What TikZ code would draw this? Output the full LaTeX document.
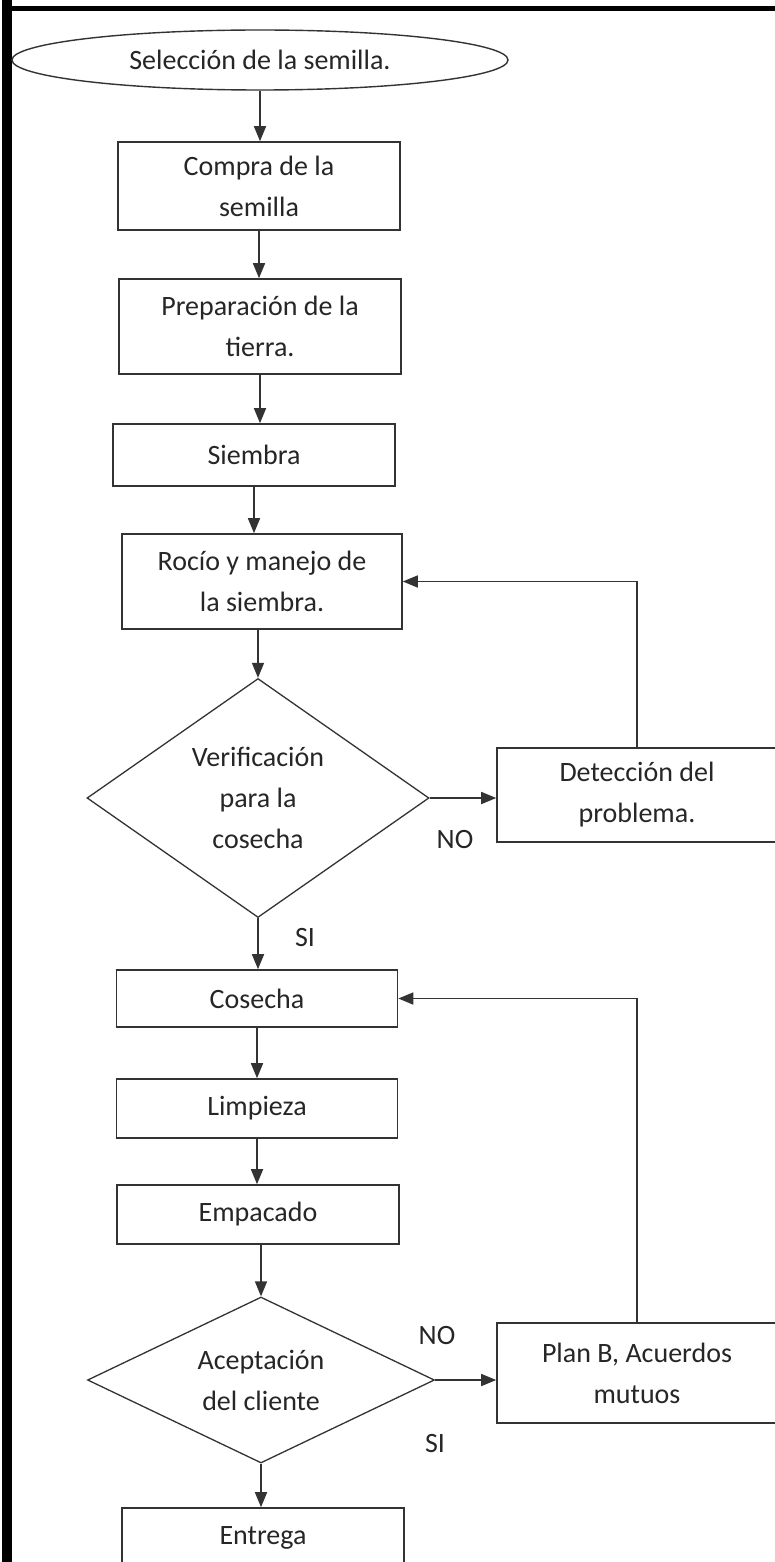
\documentclass[tikz,border=0pt]{standalone}
\usepackage{fontspec}
\setmainfont{Carlito}
\usetikzlibrary{shapes.geometric,arrows.meta}
\begin{document}
\begin{tikzpicture}[x=1pt,y=-1pt,
  every node/.style={font=\fontsize{28}{41}\selectfont, text=black!85},
  procbox/.style={draw=black!80, line width=1.6pt, rectangle, align=center, inner sep=0pt},
  decision/.style={draw=black!80, line width=1.3pt, diamond, align=center, inner sep=0pt},
  startend/.style={draw=black!80, line width=1.4pt, ellipse, inner sep=0pt},
  flow/.style={draw=black!80, line width=1.6pt, -{Triangle[length=15pt,width=12pt]}},
  lbl/.style={inner sep=0pt}]
\useasboundingbox (0,0) rectangle (775,1562);
\clip (0,0) rectangle (775,1562);
\fill[white] (0,0) rectangle (775,1562);
\fill[black] (2,0) rectangle (12,1562);
\fill[black] (2,6) rectangle (775,11);

\node[startend, minimum width=496pt, minimum height=60pt] (sel) at (260,60) {Selección de la semilla.};
\node[procbox, minimum width=282pt, minimum height=88pt] (compra) at (259,186) {Compra de la\\semilla};
\node[procbox, minimum width=282pt, minimum height=95pt] (prep) at (260,326.5) {Preparación de la\\tierra.};
\node[procbox, minimum width=282pt, minimum height=62pt] (siembra) at (254,455) {Siembra};
\node[procbox, minimum width=280pt, minimum height=95pt] (rocio) at (262,581.5) {Rocío y manejo de\\la siembra.};
\node[decision, minimum width=342pt, minimum height=239pt, aspect=1.43] (verif) at (258,798) {Verificación\\para la\\cosecha};
\node[procbox, minimum width=280pt, minimum height=94pt] (detec) at (637,795) {Detección del\\problema.};
\node[procbox, minimum width=281pt, minimum height=57pt] (cosecha) at (257,998.5) {Cosecha};
\node[procbox, minimum width=281pt, minimum height=59pt] (limp) at (257,1108.5) {Limpieza};
\node[procbox, minimum width=282pt, minimum height=59pt] (emp) at (258,1214.5) {Empacado};
\node[decision, minimum width=347pt, minimum height=166pt, aspect=2.09] (acep) at (261,1380) {Aceptación\\del cliente};
\node[procbox, minimum width=280pt, minimum height=100pt] (planb) at (637,1373) {Plan B, Acuerdos\\mutuos};
\node[procbox, minimum width=282pt, minimum height=60pt] (entrega) at (263,1538) {Entrega};

\node[lbl] (no1) at (455,840) {NO};
\node[lbl] (si1) at (305,938) {SI};
\node[lbl] (no2) at (437,1335) {NO};
\node[lbl] (si2) at (435,1443) {SI};

\draw[flow] (sel.south) -- (sel.south |- compra.north);
\draw[flow] (compra.south) -- (compra.south |- prep.north);
\draw[flow] (prep.south) -- (prep.south |- siembra.north);
\draw[flow] (siembra.south) -- (siembra.south |- rocio.north);
\draw[flow] (verif.north |- rocio.south) -- (verif.north);
\draw[flow] (verif.south) -- (verif.south |- cosecha.north);
\draw[flow] (verif.east) -- (verif.east -| detec.west);
\draw[flow] (detec.north) |- (rocio.east);
\draw[flow] (cosecha.south) -- (cosecha.south |- limp.north);
\draw[flow] (limp.south) -- (limp.south |- emp.north);
\draw[flow] (acep.north |- emp.south) -- (acep.north);
\draw[flow] (acep.east) -- (acep.east -| planb.west);
\draw[flow] (planb.north) |- (cosecha.east);
\draw[flow] (acep.south) -- (acep.south |- entrega.north);
\end{tikzpicture}
\end{document}
